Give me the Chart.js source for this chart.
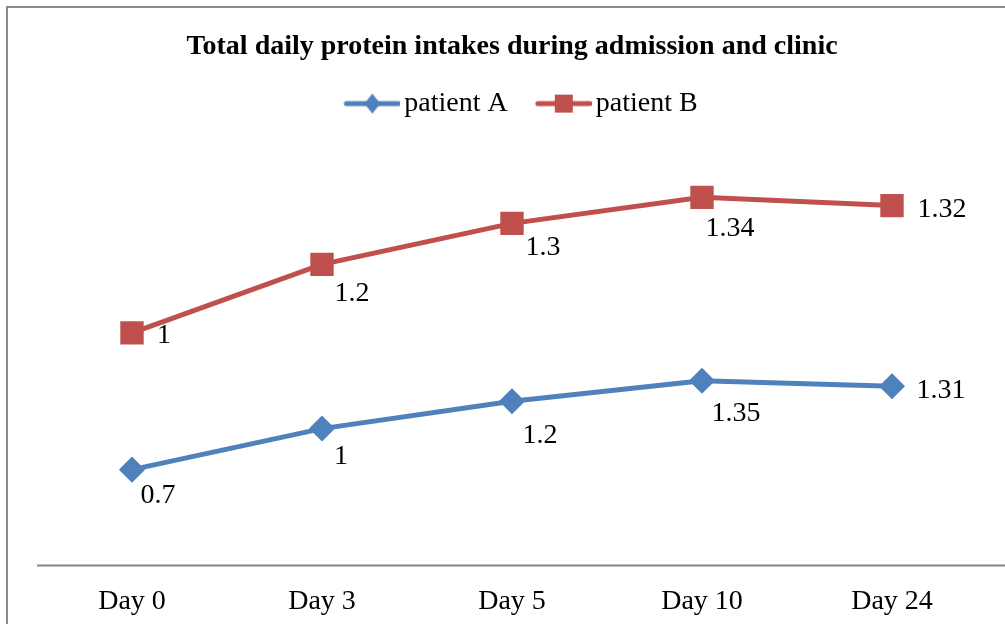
<!DOCTYPE html>
<html>
<head>
<meta charset="utf-8">
<script src="https://cdn.jsdelivr.net/npm/chart.js@4.4.1/dist/chart.umd.min.js"></script>
<style>
  html, body { margin: 0; padding: 0; background: #fff; overflow: hidden; }
  #wrap { position: relative; width: 1005px; height: 624px; overflow: hidden; }
  /* chart frame: only left and top edges are visible in the picture */
  #frame { position: absolute; left: 6px; top: 6px; width: 1100px; height: 700px;
           border-left: 2px solid #8c8c8c; border-top: 2px solid #8c8c8c; box-sizing: border-box; }
  canvas { position: absolute; left: 0; top: 0; }
</style>
</head>
<body>
<div id="wrap">
  <div id="frame"></div>
  <!-- canvas runs a bit past the bottom edge, the picture is cropped there -->
  <canvas id="proteinChart" width="1005" height="645"></canvas>
</div>
<script>
// ---------------- data ----------------
const days = ["Day 0", "Day 3", "Day 5", "Day 10", "Day 24"];
const patientA = [0.7, 1, 1.2, 1.35, 1.31];
const patientB = [1, 1.2, 1.3, 1.34, 1.32];
const seriesNames = ["patient A", "patient B"];

// ---------------- styles ----------------
const FONT = "'Liberation Serif', 'Times New Roman', serif";
const BLUE = "#4f81bd";
const RED = "#c0504d";

// label offsets (dx, dy) from each point, as the labels were placed by hand
const labelOffsets = [
  [[26, 26], [19, 28], [28, 34], [34, 33], [49, 4]],
  [[32, 3], [30, 29], [31, 24], [28, 31], [50, 4]],
];

// legend icon: line with marker in the middle (left margin is blank on purpose)
function legendIcon(color, shape) {
  const c = document.createElement("canvas");
  c.width = 84;
  c.height = 24;
  const g = c.getContext("2d");
  g.strokeStyle = color;
  g.fillStyle = color;
  g.lineWidth = 5;
  g.lineCap = "round";
  g.beginPath();
  g.moveTo(30, 12);
  g.lineTo(82, 12);
  g.stroke();
  const cx = 56;
  if (shape === "diamond") {
    g.beginPath();
    g.moveTo(cx - 8, 12);
    g.lineTo(cx, 2);
    g.lineTo(cx + 8, 12);
    g.lineTo(cx, 22);
    g.closePath();
    g.fill();
  } else {
    g.fillRect(cx - 9, 3, 18, 18);
  }
  return c;
}
const legendIcons = [legendIcon(BLUE, "diamond"), legendIcon(RED, "square")];

// value labels next to the points
const valueLabels = {
  id: "valueLabels",
  afterDatasetsDraw(chart, args, opts) {
    const ctx = chart.ctx;
    ctx.save();
    ctx.font = "28px " + FONT;
    ctx.fillStyle = "#000";
    ctx.textAlign = "center";
    ctx.textBaseline = "middle";
    chart.data.datasets.forEach((ds, i) => {
      const meta = chart.getDatasetMeta(i);
      meta.data.forEach((pt, j) => {
        const off = opts.offsets[i][j];
        ctx.fillText(String(ds.data[j]), pt.x + off[0], pt.y + off[1]);
      });
    });
    ctx.restore();
  },
};

// x axis line runs from the plot's left edge out to the picture edge
const axisLine = {
  id: "axisLine",
  beforeDatasetsDraw(chart) {
    const ctx = chart.ctx;
    const y = chart.scales.y.getPixelForValue(0);
    ctx.save();
    ctx.strokeStyle = "#868686";
    ctx.lineWidth = 2;
    ctx.beginPath();
    ctx.moveTo(chart.chartArea.left, y);
    ctx.lineTo(chart.width, y);
    ctx.stroke();
    ctx.restore();
  },
};

const ctx = document.getElementById("proteinChart").getContext("2d");
new Chart(ctx, {
  type: "line",
  data: {
    labels: days,
    datasets: [
      {
        label: seriesNames[0],
        data: patientA,
        borderColor: BLUE,
        backgroundColor: BLUE,
        borderWidth: 5,
        pointStyle: "rectRot",
        pointRadius: 9.5,
        pointBackgroundColor: BLUE,
        pointBorderColor: BLUE,
        tension: 0,
      },
      {
        label: seriesNames[1],
        data: patientB,
        borderColor: RED,
        backgroundColor: RED,
        borderWidth: 5,
        pointStyle: "rect",
        pointRadius: 13,
        pointBackgroundColor: RED,
        pointBorderColor: RED,
        tension: 0,
      },
    ],
  },
  options: {
    responsive: false,
    animation: false,
    layout: { padding: { left: 37, right: 18, top: 0, bottom: 8 } },
    plugins: {
      title: {
        display: true,
        text: "Total daily protein intakes during admission and clinic",
        color: "#000",
        font: { family: FONT, size: 28, weight: "bold" },
        padding: { top: 30, bottom: 16 },
      },
      legend: {
        position: "top",
        labels: {
          usePointStyle: true,
          pointStyleWidth: 64,
          padding: 10,
          color: "#000",
          font: { family: FONT, size: 28 },
          generateLabels: (chart) =>
            chart.data.datasets.map((ds, i) => ({
              text: ds.label,
              fillStyle: ds.borderColor,
              strokeStyle: ds.borderColor,
              lineWidth: 0,
              pointStyle: legendIcons[i],
              datasetIndex: i,
              hidden: false,
              fontColor: "#000",
            })),
        },
      },
      tooltip: { enabled: false },
      valueLabels: { offsets: labelOffsets },
    },
    scales: {
      x: {
        offset: true,
        grid: { display: false, drawTicks: false },
        border: { display: false },
        ticks: { padding: 19, color: "#000", font: { family: FONT, size: 28 } },
      },
      y: { display: false, stacked: true, min: 0, max: 3.2 },
    },
  },
  plugins: [valueLabels, axisLine],
});
</script>
</body>
</html>
